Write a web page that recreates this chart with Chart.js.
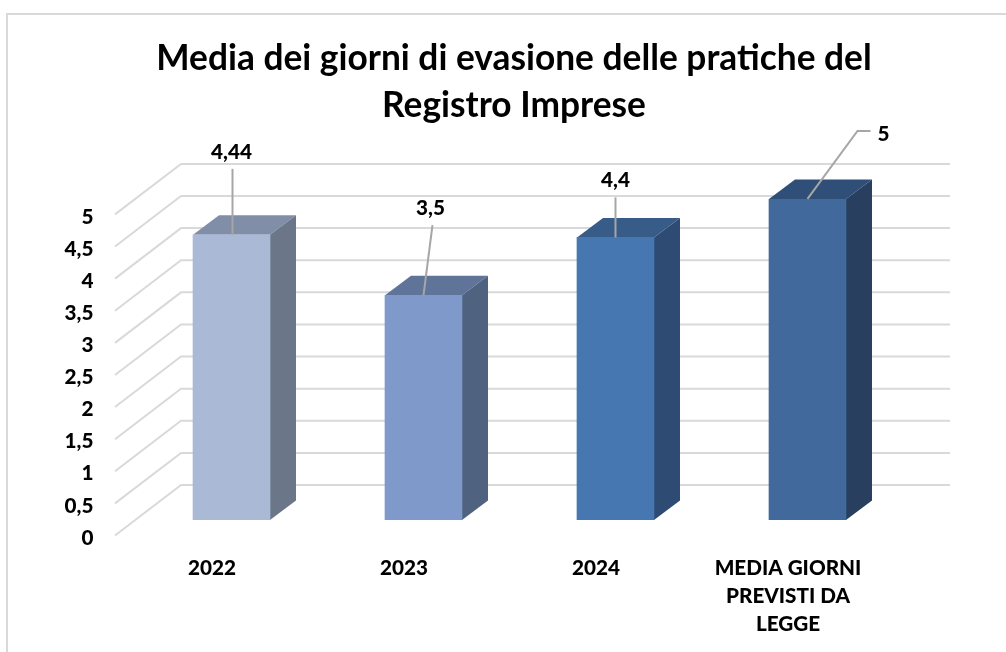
<!DOCTYPE html>
<html><head><meta charset="utf-8">
<style>html,body{margin:0;padding:0;background:#fff}#w{position:relative;width:1006px;height:652px}</style>
<script src="https://cdn.jsdelivr.net/npm/chart.js@4"></script>
</head><body><div id="w"><canvas id="c" width="1006" height="652"></canvas></div>
<script>
const categories = ["2022","2023","2024",["MEDIA GIORNI","PREVISTI DA","LEGGE"]];
const values = [4.44,3.5,4.4,5];
const valueLabels = ["4,44","3,5","4,4","5"];
const titleLines = ["Media dei giorni di evasione delle pratiche del","Registro Imprese"];
const frontColors = ["#AAB9D6","#7F9ACA","#4777B0","#41699B"];
const topColors = ["#808EA8","#5F7498","#385C88","#2F4F78"];
const sideColors = ["#6B7688","#4F6280","#2D4B73","#283F60"];
const FONT = "Lato, Carlito, sans-serif";
const depth = {x:26,y:-19.5};
const wall = {frontX:115, frontDy:15.5, backX:181, backDy:-35, right:950};
const leaders = [
  {pts:[[1,0],[1,-66]], label:[0,-83]},
  {pts:[[0,0],[9,-70]], label:[7,-87]},
  {pts:[[0,0],[0,-40]], label:[0,-57]},
  {pts:[[0,0],[50,-68],[63,-68]], label:[76,-65]}
];
const frame = {
  id:"frame",
  beforeDraw(ch){
    const c=ch.ctx; c.save(); c.strokeStyle="#D9D9D9"; c.lineWidth=2;
    c.beginPath(); c.moveTo(7,652); c.lineTo(7,14); c.lineTo(1006,14); c.stroke(); c.restore();
  }
};
const walls = {
  id:"walls",
  beforeDatasetsDraw(ch){
    const c=ch.ctx, y=ch.scales.y; c.save(); c.strokeStyle="#D9D9D9"; c.lineWidth=2;
    y.ticks.forEach(t=>{
      const p=y.getPixelForValue(t.value);
      c.beginPath(); c.moveTo(wall.frontX,p+wall.frontDy); c.lineTo(wall.backX,p+wall.backDy); c.lineTo(wall.right,p+wall.backDy); c.stroke();
    });
    ch.getDatasetMeta(0).data.forEach((b,i)=>{
      const h=b.getProps(["x","y","base","width"],true), l=h.x-h.width/2, r=h.x+h.width/2;
      c.fillStyle=topColors[i]; c.beginPath(); c.moveTo(l,h.y); c.lineTo(l+depth.x,h.y+depth.y); c.lineTo(r+depth.x,h.y+depth.y); c.lineTo(r,h.y); c.closePath(); c.fill();
      c.fillStyle=sideColors[i]; c.beginPath(); c.moveTo(r,h.y); c.lineTo(r+depth.x,h.y+depth.y); c.lineTo(r+depth.x,h.base+depth.y); c.lineTo(r,h.base); c.closePath(); c.fill();
    });
    c.restore();
  }
};
const labelsPlugin = {
  id:"leaderLabels",
  afterDatasetsDraw(ch){
    const c=ch.ctx; c.save();
    ch.getDatasetMeta(0).data.forEach((b,i)=>{
      const h=b.getProps(["x","y"],true), L=leaders[i];
      c.strokeStyle="#A6A6A6"; c.lineWidth=2; c.beginPath();
      L.pts.forEach((p,k)=>{ k?c.lineTo(h.x+p[0],h.y+p[1]):c.moveTo(h.x+p[0],h.y+p[1]); }); c.stroke();
      c.fillStyle="#000"; c.font="900 20.7px "+FONT; c.textAlign="center"; c.textBaseline="middle";
      c.fillText(valueLabels[i],h.x+L.label[0],h.y+L.label[1]);
    });
    c.restore();
  }
};
Chart.defaults.font.family = FONT;
new Chart(document.getElementById("c"),{
  type:"bar",
  data:{labels:categories,datasets:[{data:values,backgroundColor:frontColors,borderWidth:0,barThickness:77}]},
  plugins:[frame,walls,labelsPlugin],
  options:{
    responsive:false,animation:false,
    layout:{padding:{left:22,right:0,top:0,bottom:0}},
    plugins:{legend:{display:false},tooltip:{enabled:false},
      title:{display:true,text:titleLines,color:"#000",font:{size:35.3,weight:"bold",family:FONT,lineHeight:1.33},padding:{top:35,bottom:70}}},
    scales:{
      x:{grid:{display:false},border:{display:false},afterFit(s){s.height=132;},
         ticks:{color:"#000",font:{size:20.7,weight:"900",family:FONT,lineHeight:1.35},labelOffset:-19.5,maxRotation:0,autoSkip:false,padding:26}},
      y:{min:0,max:5,grid:{display:false},border:{display:false},
         afterFit(s){s.width=113.5;},
         ticks:{stepSize:0.5,color:"#000",font:{size:20.7,weight:"900",family:FONT},labelOffset:18,padding:34,
                callback:v=>String(v).replace(".",",")}},
      pad:{axis:"y",position:"right",grid:{display:false},border:{display:false},ticks:{display:false},afterFit(s){s.width=102.5;}}
    }
  }
});
</script></body></html>
